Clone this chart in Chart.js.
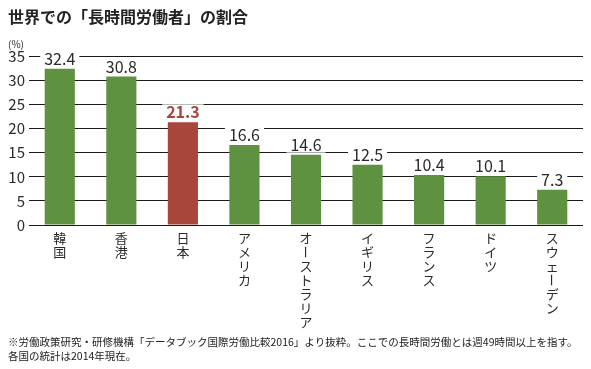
<!DOCTYPE html>
<html><head><meta charset="utf-8">
<script src="https://cdn.jsdelivr.net/npm/chart.js@4"></script>
<style>html,body{margin:0;padding:0;background:#fff}#wrap{width:591px;height:369px;position:relative}</style>
</head><body><div id="wrap"><canvas id="c"></canvas></div>
<script>
const categories = ['韓国','香港','日本','アメリカ','オーストラリア','イギリス','フランス','ドイツ','スウェーデン'];
const values = [32.4, 30.8, 21.3, 16.6, 14.6, 12.5, 10.4, 10.1, 7.3];
const highlightCategory = '日本';
const yTicks = [0, 5, 10, 15, 20, 25, 30, 35];
const titleText = '世界での「長時間労働者」の割合';
const unitText = '(%)';
const noteLines = [
  '※労働政策研究・研修機構「データブック国際労働比較2016」より抜粋。ここでの長時間労働とは週49時間以上を指す。',
  '各国の統計は2014年現在。'
];

const GREEN = '#5e9140', RED = '#a9463b', INK = '#2a2a2a';
const FONT = '"Noto Sans CJK JP", "Noto Sans", sans-serif';

const overlay = {
  id: 'overlay',
  afterDatasetsDraw(chart) {
    const ctx = chart.ctx;
    const meta = chart.getDatasetMeta(0);
    const xs = chart.scales.x;
    ctx.save();
    // value labels
    meta.data.forEach((bar, i) => {
      const hi = categories[i] === highlightCategory;
      const txt = values[i].toFixed(1);
      ctx.font = (hi ? 'bold ' : '') + '16px ' + FONT;
      const w = ctx.measureText(txt).width;
      const cy = bar.y - 10;
      ctx.fillStyle = '#fff';
      ctx.fillRect(bar.x - w / 2 - 4, cy - 8, w + 8, 16);
      ctx.fillStyle = hi ? RED : INK;
      ctx.textAlign = 'center';
      ctx.textBaseline = 'middle';
      ctx.fillText(txt, bar.x, cy);
    });
    // vertical category labels
    ctx.font = '13px ' + FONT;
    ctx.fillStyle = INK;
    ctx.textAlign = 'center';
    ctx.textBaseline = 'middle';
    categories.forEach((name, i) => {
      const x = xs.getPixelForValue(i);
      Array.from(name).forEach((ch, k) => {
        const y = chart.chartArea.bottom + 13 + k * 14;
        if (ch === 'ー') {
          ctx.save();
          ctx.translate(x, y);
          ctx.rotate(Math.PI / 2);
          ctx.fillText(ch, 0, 0);
          ctx.restore();
        } else {
          ctx.fillText(ch, x, y);
        }
      });
    });
    // unit
    ctx.font = '10px ' + FONT;
    ctx.textAlign = 'left';
    ctx.fillText(unitText, 8, 44);
    ctx.restore();
  }
};

new Chart(document.getElementById('c'), {
  type: 'bar',
  data: {
    labels: categories,
    datasets: [{
      data: values,
      backgroundColor: categories.map(c => c === highlightCategory ? RED : GREEN),
      barPercentage: 0.49,
      categoryPercentage: 1.0,
      borderWidth: 0
    }]
  },
  options: {
    responsive: true,
    maintainAspectRatio: false,
    animation: false,
    devicePixelRatio: 1,
    layout: { padding: { left: 8, right: 8, top: 0, bottom: 4 } },
    plugins: {
      legend: { display: false },
      tooltip: { enabled: false },
      title: {
        display: true, text: titleText, align: 'start', color: '#222',
        font: { family: FONT, size: 16, weight: 'bold' },
        padding: { top: 7, bottom: 30 }
      },
      subtitle: {
        display: true, text: noteLines, position: 'bottom', align: 'start', color: '#222',
        font: { family: FONT, size: 10.5, lineHeight: 1.33 },
        padding: { top: 4, bottom: 2 }
      }
    },
    scales: {
      y: {
        min: 0, max: 35,
        afterBuildTicks: s => { s.ticks = yTicks.map(v => ({ value: v })); },
        afterFit: s => { s.width = 21; },
        ticks: { color: INK, font: { family: FONT, size: 15 }, padding: 4 },
        grid: { color: '#1a1a1a', lineWidth: 1, drawTicks: false },
        border: { display: false }
      },
      x: {
        grid: { display: false },
        border: { display: false },
        afterFit: s => { s.height = 106; },
        ticks: { display: false }
      }
    }
  },
  plugins: [overlay]
});
</script>
</body></html>
